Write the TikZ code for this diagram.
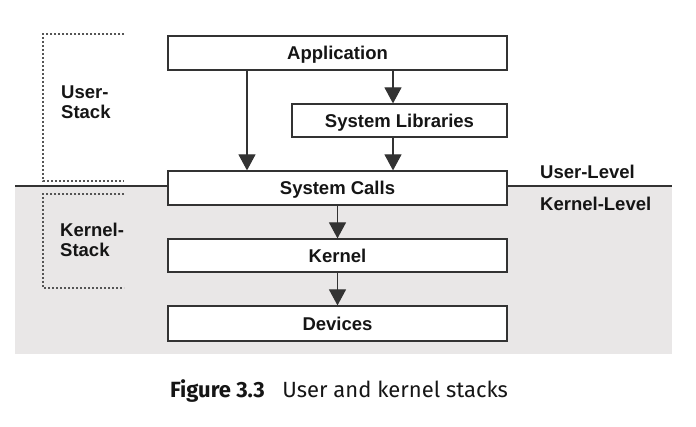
\documentclass[tikz,border=0pt]{standalone}
\usepackage{fontspec}
\setmainfont{Liberation Sans}
\newfontfamily\capfont{Fira Sans}
\usetikzlibrary{arrows.meta}
\definecolor{kernelgray}{HTML}{E9E7E7}
\definecolor{boxline}{HTML}{333333}
\definecolor{dotgray}{HTML}{555555}
\definecolor{ink}{HTML}{151515}
\begin{document}
\begin{tikzpicture}[x=1pt,y=-1pt,
  layer/.style={draw=boxline, line width=1.2pt, fill=white, minimum width=339pt,
    minimum height=34pt, inner sep=0pt, text height=13.3pt, text depth=0pt,
    text=ink, font=\fontsize{18.5}{20.5}\selectfont\bfseries},
  arrow/.style={-{Triangle[width=17pt,length=16pt]}, line width=1.2pt, draw=boxline, fill=ink},
  stackbox/.style={draw=dotgray, line width=1.4pt, dash pattern=on 2pt off 2pt},
  side/.style={inner sep=0pt, text=ink, align=left, anchor=base west,
    font=\fontsize{18.5}{20}\selectfont\bfseries}]
\useasboundingbox (0,0) rectangle (696,427);
% kernel side of the split
\fill[kernelgray] (15,186) rectangle (672,354);
\draw[boxline, line width=1.2pt] (15,186) -- (672,186);
% stack brackets
\draw[stackbox] (124,34) -- (43,34) -- (43,181) -- (124,181);
\draw[stackbox] (124,194) -- (43,194) -- (43,288) -- (124,288);
\node[side] (ustack) at (61,119) {User-\\Stack};
\node[side] (kstack) at (60,257) {Kernel-\\Stack};

\node[layer] (app) at (337.5,53) {Application};
\node[layer, minimum width=215pt, minimum height=33pt] (lib) at (399.5,120.5) {System Libraries};
\node[layer] (calls) at (337.5,188) {System Calls};
\node[layer, minimum height=33pt] (kernel) at (337.5,255.5) {Kernel};
\node[layer, minimum height=35pt] (dev) at (337.5,323.5) {Devices};

\draw[arrow] ([xshift=-90.5pt]app.south) -- ([xshift=-90.5pt]calls.north);
\draw[arrow] ([xshift=55.5pt]app.south) -- ([xshift=-6.5pt]lib.north);
\draw[arrow] ([xshift=-6.5pt]lib.south) -- ([xshift=55.5pt]calls.north);
\draw[arrow] (calls) -- (kernel);
\draw[arrow] (kernel) -- (dev);

\node[side] (ulevel) at (540,179) {User-Level};
\node[side] (klevel) at (540,211) {Kernel-Level};

\node[inner sep=0pt, anchor=base, text=ink, font=\capfont\fontsize{22}{25}\selectfont]
  (caption) at (339,398) {\textbf{Figure 3.3}\hspace{0.8em}User and kernel stacks};
\end{tikzpicture}
\end{document}
